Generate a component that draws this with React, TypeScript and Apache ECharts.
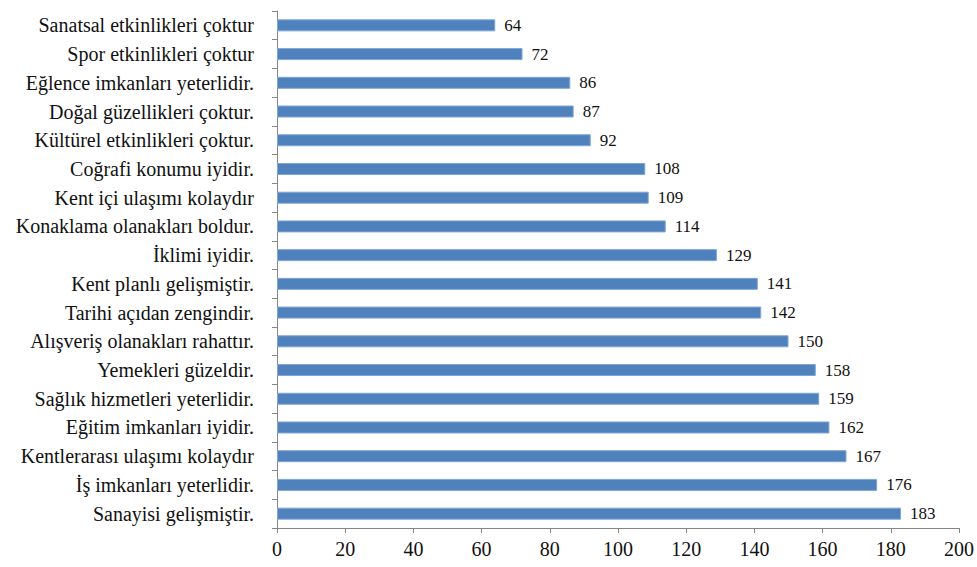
import React, { useEffect, useRef } from "react";
import * as echarts from "echarts";

const categories = [
  "Sanatsal etkinlikleri çoktur",
  "Spor etkinlikleri çoktur",
  "Eğlence imkanları yeterlidir.",
  "Doğal güzellikleri çoktur.",
  "Kültürel etkinlikleri çoktur.",
  "Coğrafi konumu iyidir.",
  "Kent içi ulaşımı kolaydır",
  "Konaklama olanakları boldur.",
  "İklimi iyidir.",
  "Kent planlı gelişmiştir.",
  "Tarihi açıdan zengindir.",
  "Alışveriş olanakları rahattır.",
  "Yemekleri güzeldir.",
  "Sağlık hizmetleri yeterlidir.",
  "Eğitim imkanları iyidir.",
  "Kentlerarası ulaşımı kolaydır",
  "İş imkanları yeterlidir.",
  "Sanayisi gelişmiştir.",
];
const values = [64, 72, 86, 87, 92, 108, 109, 114, 129, 141, 142, 150, 158, 159, 162, 167, 176, 183];

const FONT = "Liberation Serif";

export default function App() {
  const ref = useRef<HTMLDivElement>(null);
  useEffect(() => {
    if (!ref.current) return;
    const chart = echarts.init(ref.current, undefined, { renderer: "svg" });
    chart.setOption({
      animation: false,
      backgroundColor: "#ffffff",
      grid: { left: 277, right: 18, top: 11, bottom: 39, containLabel: false },
      xAxis: {
        type: "value",
        min: 0,
        max: 200,
        interval: 20,
        axisLine: { show: true, lineStyle: { color: "#868686", width: 1 } },
        axisTick: { show: true, length: 5, lineStyle: { color: "#868686" } },
        splitLine: { show: false },
        axisLabel: { color: "#111", fontFamily: FONT, fontSize: 20, margin: 11 },
      },
      yAxis: {
        type: "category",
        data: categories,
        inverse: true,
        axisLine: { show: true, lineStyle: { color: "#868686", width: 1 } },
        axisTick: { show: true, length: 5, alignWithLabel: false, lineStyle: { color: "#868686" } },
        axisLabel: { color: "#111", fontFamily: FONT, fontSize: 20, margin: 23 },
      },
      series: [
        {
          type: "bar",
          data: values,
          barWidth: 12,
          itemStyle: { color: "#4F81BD", borderColor: "#7EA6D6", borderWidth: 1 },
          label: {
            show: true,
            position: "right",
            distance: 9,
            color: "#111",
            fontFamily: FONT,
            fontSize: 17,
          },
        },
      ],
    });
    return () => chart.dispose();
  }, []);
  return (
    <div
      ref={ref}
      style={{ position: "absolute", left: 0, top: 0, width: 977, height: 567 }}
    />
  );
}
